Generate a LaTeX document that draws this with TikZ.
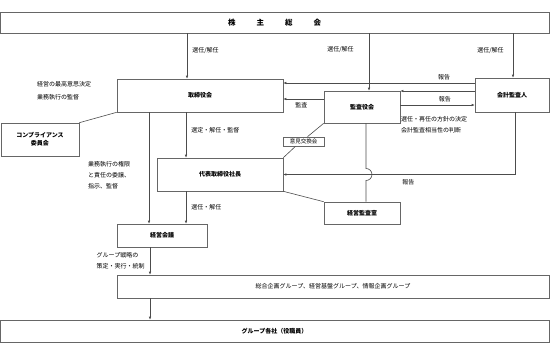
\documentclass[tikz,border=0pt]{standalone}
\usepackage{fontspec}
\setmainfont{Noto Sans CJK JP}
\usepackage{tikz}
\usetikzlibrary{arrows.meta,positioning}

\begin{document}
\begin{tikzpicture}[x=1pt, y=-1pt, font=\fontsize{6}{8}\selectfont]
\tikzstyle{box}=[draw=black!60, line width=0.6pt, align=center, inner sep=0pt, font=\bfseries\fontsize{6}{8}\selectfont]
\tikzstyle{lbl}=[align=left, inner sep=1pt, font=\fontsize{6}{11}\selectfont]
\tikzstyle{arr}=[draw=black!70, line width=0.6pt, -{Latex[length=3pt,width=2.6pt]}]
\tikzstyle{conn}=[draw=black!70, line width=0.6pt]
\useasboundingbox (0,0) rectangle (551,343);
% boxes
\node[box, minimum width=549pt, minimum height=21pt, font=\bfseries\fontsize{7.5}{9}\selectfont] (soukai) at (274.5,22.5) {株\hspace{21pt}主\hspace{21pt}総\hspace{21pt}会};
\node[box, minimum width=166pt, minimum height=33pt] (torishimari) at (200,95.5) {取締役会};
\node[box, minimum width=76pt, minimum height=32pt] (kansayaku) at (362,107) {監査役会};
\node[box, minimum width=74pt, minimum height=34pt] (kaikei) at (512,95) {会計監査人};
\node[box, minimum width=78pt, minimum height=33pt] (compliance) at (40,139.5) {コンプライアンス\\委員会};
\node[box, minimum width=41pt, minimum height=9pt, font=\fontsize{5.5}{6}\selectfont] (iken) at (303.5,141.5) {意見交換会};
\node[box, minimum width=126pt, minimum height=33pt] (shacho) at (220,174.5) {代表取締役社長};
\node[box, minimum width=76pt, minimum height=22pt] (kansashitsu) at (362,213) {経営監査室};
\node[box, minimum width=90pt, minimum height=23pt] (keiei) at (162,235.5) {経営会議};
\node[box, minimum width=432pt, minimum height=23pt, font=\fontsize{6}{8}\selectfont] (sougou) at (333,286.5) {総合企画グループ、経営基盤グループ、情報企画グループ};
\node[box, minimum width=549pt, minimum height=22pt] (group) at (274.5,331) {グループ各社（役職員）};
% notes
\node[lbl, anchor=west, font=\fontsize{6}{13}\selectfont] (kettei) at (36,90.5) {経営の最高意思決定\\業務執行の監督};
\node[lbl, anchor=west] (inin) at (87,175) {業務執行の権限\\と責任の委譲、\\指示、監督};
\node[lbl, anchor=west] (handan) at (400,124.5) {選任・再任の方針の決定\\会計監査相当性の判断};
% election
\draw[arr] ([xshift=-13pt]torishimari.north |- soukai.south) -- ([xshift=-13pt]torishimari.north) node[lbl, pos=0.37, right=4pt]{選任/解任};
\draw[arr] ([xshift=7pt]kansayaku.north |- soukai.south) -- ([xshift=7pt]kansayaku.north) node[lbl, pos=0.29, left=14pt]{選任/解任};
\draw[arr] ([xshift=1pt]kaikei.north |- soukai.south) -- ([xshift=1pt]kaikei.north) node[lbl, pos=0.38, left=8pt]{選任/解任};
% audit and report
\draw[arr] ([yshift=12pt]kaikei.west) -- ([yshift=12pt]kaikei.west -| torishimari.east) node[lbl, pos=0.16, above=2pt]{報告};
\draw[arr] ([yshift=4pt]kaikei.west) -- ([yshift=4pt]kaikei.west -| kansayaku.east);
\draw[arr] ([yshift=2pt]kansayaku.east) -- ([yshift=2pt]kansayaku.east -| kaikei.west) node[lbl, pos=0.6, above=2pt]{報告};
\draw[arr] ([yshift=8pt]kansayaku.west) -- ([yshift=8pt]kansayaku.west -| torishimari.east) node[lbl, pos=0.55, below=2pt]{監査};
\draw[arr] ([xshift=3pt]kaikei.south) |- (shacho.east) node[lbl, pos=0.73, below=4pt]{報告};
% board
\draw[conn] (torishimari.south west) -- (compliance.north east);
\draw[arr] ([xshift=-13pt]keiei.north |- torishimari.south) -- ([xshift=-13pt]keiei.north);
\draw[arr] ([xshift=-34pt]shacho.north |- torishimari.south) -- ([xshift=-34pt]shacho.north) node[lbl, pos=0.4, right=4pt]{選定・解任・監督};
\draw[arr] ([xshift=-34pt]shacho.south) -- ([xshift=-34pt]shacho.south |- keiei.north) node[lbl, midway, right=4pt]{選任・解任};
\draw[conn] (kansayaku.south west) -- ([xshift=4pt]iken.north);
\draw[conn] ([xshift=-8pt]iken.south) -- (shacho.north east);
\draw[conn] (shacho.south east) -- (kansashitsu.north west);
\draw[conn] ([xshift=4pt]kansayaku.south) -- ([xshift=4pt,yshift=6pt]kansayaku.south |- shacho.east) arc[start angle=90, end angle=-90, radius=6pt] -- ([xshift=4pt]kansashitsu.north);
% group
\draw[arr] ([xshift=-12pt]keiei.south) -- ([xshift=-12pt]keiei.south |- sougou.north) node[lbl, midway, left=4pt]{グループ戦略の\\策定・実行・統制};
\draw[arr] ([xshift=-12pt]keiei.south |- sougou.south) -- ([xshift=-12pt]keiei.south |- group.north);
\end{tikzpicture}
\end{document}
